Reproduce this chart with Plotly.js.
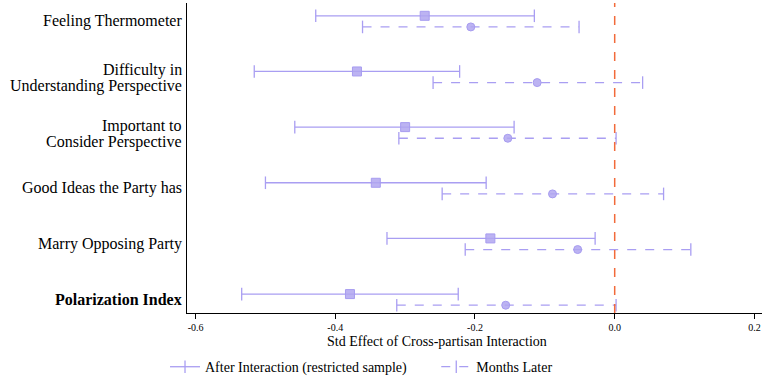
<!DOCTYPE html>
<html>
<head>
<meta charset="utf-8">
<script src="https://cdn.plot.ly/plotly-3.0.1.min.js"></script>
<style>html,body{margin:0;padding:0;background:#fff;}#chart{width:765px;height:380px;}</style>
</head>
<body>
<div id="chart"></div>
<script>
const categories = [
  'Feeling Thermometer',
  'Difficulty in<br>Understanding Perspective',
  'Important to<br>Consider Perspective',
  'Good Ideas the Party has',
  'Marry Opposing Party',
  '<b>Polarization Index</b>'
];
const seriesNames = ['After Interaction (restricted sample)', 'Months Later'];
const afterEst = [-0.272, -0.369, -0.300, -0.342, -0.178, -0.379];
const afterLo  = [-0.428, -0.516, -0.458, -0.500, -0.326, -0.534];
const afterHi  = [-0.115, -0.222, -0.144, -0.184, -0.028, -0.224];
const laterEst = [-0.206, -0.111, -0.153, -0.089, -0.053, -0.156];
const laterLo  = [-0.361, -0.260, -0.309, -0.247, -0.214, -0.312];
const laterHi  = [-0.051,  0.040,  0.002,  0.070,  0.109,  0.002];
const xTicks = [-0.6, -0.4, -0.2, 0.0, 0.2];
const xTickText = ['-0.6', '-0.4', '-0.2', '0.0', '0.2'];

const FONT = "'Liberation Serif', 'Times New Roman', serif";
const LINE = '#a99ef2';
const FILL = 'rgba(176,166,240,0.85)';
const OFF = 0.1;

function segs(lo, hi, off) {
  const x = [], y = [];
  lo.forEach((v, i) => { x.push(v, hi[i], null); y.push(i + off, i + off, null); });
  return {x, y};
}
const sA = segs(afterLo, afterHi, -OFF);
const sL = segs(laterLo, laterHi, OFF);

const traces = [
  {x: sA.x, y: sA.y, mode: 'lines+markers', name: seriesNames[0] + '\u00a0'.repeat(7),
   line: {color: LINE, width: 1.3},
   marker: {symbol: 'line-ns-open', size: 9, color: LINE, line: {color: LINE, width: 1.3}},
   connectgaps: false, hoverinfo: 'skip'},
  {x: sL.x, y: sL.y, mode: 'lines+markers', name: seriesNames[1],
   line: {color: LINE, width: 1.3, dash: 'dash'},
   marker: {symbol: 'line-ns-open', size: 9, color: LINE, line: {color: LINE, width: 1.3}},
   connectgaps: false, hoverinfo: 'skip'},
  {x: afterEst, y: afterEst.map((_, i) => i - OFF), mode: 'markers', showlegend: false,
   marker: {symbol: 'square', size: 9, color: FILL, line: {color: '#a79cf0', width: 1}}},
  {x: laterEst, y: laterEst.map((_, i) => i + OFF), mode: 'markers', showlegend: false,
   marker: {symbol: 'circle', size: 8, color: FILL, line: {color: '#a79cf0', width: 1}}}
];

const annotations = [];
categories.forEach((c, i) => {
  const lines = c.split('<br>');
  const n = lines.length;
  lines.forEach((t, k) => {
    annotations.push({
      xref: 'paper', yref: 'y', x: 0, y: i, xanchor: 'right', yanchor: 'middle',
      xshift: -3, yshift: ((n - 1) / 2 - k) * 16 + (n > 1 ? -1 : 0),
      text: t, showarrow: false, font: {family: FONT, size: 16, color: '#000'}
    });
  });
});
annotations.push({
  xref: 'paper', yref: 'paper', x: 0.435, y: -0.093, xanchor: 'center', yanchor: 'middle',
  text: 'Std Effect of Cross-partisan Interaction', showarrow: false,
  font: {family: FONT, size: 14, color: '#000'}
});

const layout = {
  width: 765, height: 380,
  margin: {l: 187, r: 3, t: 3, b: 67},
  paper_bgcolor: '#fff', plot_bgcolor: '#fff',
  font: {family: FONT, color: '#000'},
  xaxis: {
    range: [-0.6123, 0.2109], tickvals: xTicks, ticktext: xTickText,
    showgrid: false, zeroline: false, showline: true, linecolor: '#000', linewidth: 1,
    ticks: 'outside', ticklen: 5, tickcolor: '#000', tickwidth: 1,
    tickfont: {family: FONT, size: 10, color: '#000'}
  },
  yaxis: {
    range: [5.24, -0.33], showticklabels: false, ticks: '',
    showgrid: false, zeroline: false, showline: true, linecolor: '#000', linewidth: 1
  },
  shapes: [{type: 'line', xref: 'x', yref: 'paper', x0: 0, x1: 0, y0: 0, y1: 1,
            line: {color: '#f26a3a', width: 1.5, dash: 'dash'}}],
  annotations: annotations,
  showlegend: true,
  legend: {orientation: 'h', xref: 'container', x: 0.2157, xanchor: 'left',
           yref: 'container', y: 0.076, yanchor: 'top',
           font: {family: FONT, size: 14, color: '#000'}, itemwidth: 30,
           bgcolor: 'rgba(0,0,0,0)'}
};

Plotly.newPlot('chart', traces, layout, {displayModeBar: false, staticPlot: true});
</script>
</body>
</html>
